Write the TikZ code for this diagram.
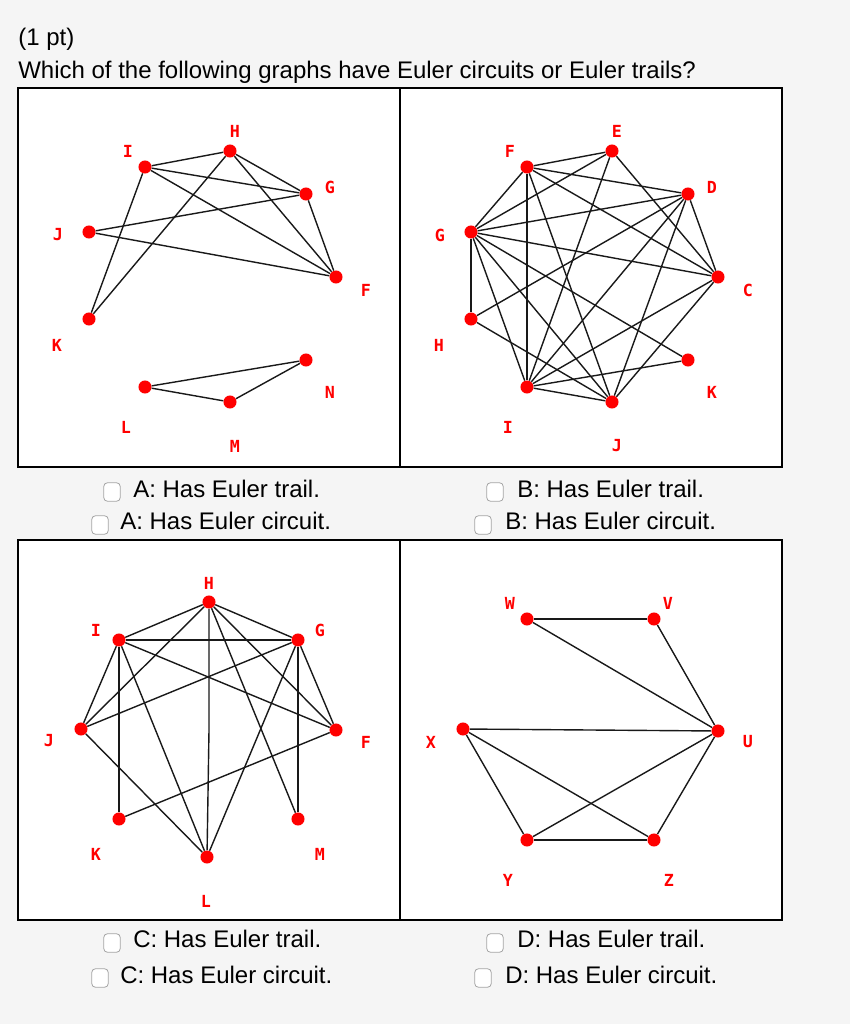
\documentclass[tikz,border=0pt]{standalone}
\usepackage{fontspec}
\setmainfont{Liberation Sans}
\newfontfamily\lblfont{DejaVu Sans Mono}[BoldFont={DejaVu Sans Mono Bold}]
\usepackage{tikz}
\definecolor{pagebg}{RGB}{245,245,245}
\definecolor{boxgray}{RGB}{165,165,165}
\tikzset{
  vtx/.style={circle, fill=red, inner sep=0pt, minimum size=9.8pt},
  vname/.style={text=red, inner sep=0pt, font=\lblfont\bfseries\fontsize{12.5}{12.5}\selectfont},
  edge/.style={line width=1.05pt, black!90},
  panel/.style={draw=black, line width=1.4pt, fill=white},
  qtext/.style={anchor=base west, inner sep=0pt, font=\fontsize{18}{21}\selectfont},
  chkbox/.style={draw=boxgray, line width=0.6pt, fill=white, rounded corners=3pt, minimum width=12.5pt, minimum height=14pt, inner sep=0pt}
}
\begin{document}
\begin{tikzpicture}[x=0.75pt,y=0.75pt,yscale=-1,xscale=1]
\useasboundingbox (0,0) rectangle (850,1024);
\fill[pagebg] (0,0) rectangle (850,1024);

% Text Node
\node[qtext] (pts) at (18,46) {(1 pt)};
% Text Node
\node[qtext] (question) at (18,79) {Which of the following graphs have Euler circuits or Euler trails?};

%Panels
\draw[panel] (18,88) rectangle (399.5,467);
\draw[panel] (400.5,88) rectangle (782,467);
\draw[panel] (18,540) rectangle (399.5,920);
\draw[panel] (400.5,540) rectangle (782,920);

%Graph A
\node[vtx] (aH) at (230,151) {};
\node[vtx] (aI) at (145,167) {};
\node[vtx] (aG) at (306,194) {};
\node[vtx] (aJ) at (89,232) {};
\node[vtx] (aF) at (336,277) {};
\node[vtx] (aK) at (89,319) {};
\node[vtx] (aN) at (306,360) {};
\node[vtx] (aL) at (145,387) {};
\node[vtx] (aM) at (230,402) {};
\node[vname] at (235,131) {H};
\node[vname] at (128,151) {I};
\node[vname] at (330,187) {G};
\node[vname] at (58,235) {J};
\node[vname] at (366,290) {F};
\node[vname] at (57,345) {K};
\node[vname] at (330,392) {N};
\node[vname] at (126,427) {L};
\node[vname] at (235,446) {M};
%Straight Lines
\draw[edge] (aI) -- (aH);
\draw[edge] (aI) -- (aG);
\draw[edge] (aI) -- (aF);
\draw[edge] (aI) -- (aK);
\draw[edge] (aH) -- (aG);
\draw[edge] (aH) -- (aF);
\draw[edge] (aH) -- (aK);
\draw[edge] (aG) -- (aJ);
\draw[edge] (aG) -- (aF);
\draw[edge] (aJ) -- (aF);
\draw[edge] (aL) -- (aN);
\draw[edge] (aL) -- (aM);
\draw[edge] (aM) -- (aN);

%Graph B
\node[vtx] (bE) at (612,151) {};
\node[vtx] (bF) at (527,167) {};
\node[vtx] (bD) at (688,194) {};
\node[vtx] (bG) at (471,232) {};
\node[vtx] (bC) at (718,277) {};
\node[vtx] (bH) at (471,319) {};
\node[vtx] (bK) at (688,360) {};
\node[vtx] (bI) at (527,387) {};
\node[vtx] (bJ) at (612,402) {};
\node[vname] at (617,131) {E};
\node[vname] at (510,151) {F};
\node[vname] at (712,187) {D};
\node[vname] at (440,235) {G};
\node[vname] at (748,290) {C};
\node[vname] at (439,345) {H};
\node[vname] at (712,392) {K};
\node[vname] at (508,427) {I};
\node[vname] at (617,446) {J};
%Straight Lines
\draw[edge] (bE) -- (bF);
\draw[edge] (bE) -- (bG);
\draw[edge] (bE) -- (bI);
\draw[edge] (bE) -- (bC);
\draw[edge] (bF) -- (bD);
\draw[edge] (bF) -- (bC);
\draw[edge] (bF) -- (bG);
\draw[edge] (bF) -- (bI);
\draw[edge] (bF) -- (bJ);
\draw[edge] (bD) -- (bG);
\draw[edge] (bD) -- (bH);
\draw[edge] (bD) -- (bI);
\draw[edge] (bD) -- (bJ);
\draw[edge] (bD) -- (bC);
\draw[edge] (bG) -- (bC);
\draw[edge] (bG) -- (bH);
\draw[edge] (bG) -- (bI);
\draw[edge] (bG) -- (bJ);
\draw[edge] (bG) -- (bK);
\draw[edge] (bH) -- (bJ);
\draw[edge] (bI) -- (bC);
\draw[edge] (bI) -- (bK);
\draw[edge] (bI) -- (bJ);
\draw[edge] (bJ) -- (bC);

%Graph C
\node[vtx] (cH) at (209,602) {};
\node[vtx] (cI) at (119,640) {};
\node[vtx] (cG) at (298,640) {};
\node[vtx] (cJ) at (81,729) {};
\node[vtx] (cF) at (336,730) {};
\node[vtx] (cK) at (119,819) {};
\node[vtx] (cM) at (298,819) {};
\node[vtx] (cL) at (207,857) {};
\node[vname] at (209,583) {H};
\node[vname] at (96,630) {I};
\node[vname] at (320,630) {G};
\node[vname] at (49,741) {J};
\node[vname] at (366,742) {F};
\node[vname] at (96,854) {K};
\node[vname] at (320,854) {M};
\node[vname] at (206,901) {L};
%Straight Lines
\draw[edge] (cH) -- (cI);
\draw[edge] (cH) -- (cG);
\draw[edge] (cH) -- (cJ);
\draw[edge] (cH) -- (cF);
\draw[edge] (cH) -- (cM);
\draw[edge] (cH) -- (209,730) -- (cL);
\draw[edge] (cI) -- (cG);
\draw[edge] (cI) -- (cJ);
\draw[edge] (cI) -- (cK);
\draw[edge] (cI) -- (cL);
\draw[edge] (cI) -- (cF);
\draw[edge] (cG) -- (cJ);
\draw[edge] (cG) -- (cF);
\draw[edge] (cG) -- (cM);
\draw[edge] (cG) -- (cL);
\draw[edge] (cJ) -- (cL);
\draw[edge] (cK) -- (cF);

%Graph D
\node[vtx] (dW) at (527,619) {};
\node[vtx] (dV) at (654,619) {};
\node[vtx] (dX) at (463,729) {};
\node[vtx] (dU) at (718,731) {};
\node[vtx] (dY) at (527,840) {};
\node[vtx] (dZ) at (654,840) {};
\node[vname] at (510,603) {W};
\node[vname] at (668,603) {V};
\node[vname] at (431,742) {X};
\node[vname] at (748,742) {U};
\node[vname] at (508,880) {Y};
\node[vname] at (669,880) {Z};
%Straight Lines
\draw[edge] (dW) -- (dV);
\draw[edge] (dW) -- (dU);
\draw[edge] (dV) -- (dU);
\draw[edge] (dX) -- (dU);
\draw[edge] (dX) -- (dY);
\draw[edge] (dX) -- (dZ);
\draw[edge] (dY) -- (dU);
\draw[edge] (dY) -- (dZ);
\draw[edge] (dZ) -- (dU);

%Check boxes
\node[chkbox] (boxAt) at (112,492) {};
\node[qtext] (txtAt) at (133,497) {A: Has Euler trail.};
\node[chkbox] (boxAc) at (100,525) {};
\node[qtext] (txtAc) at (120,529) {A: Has Euler circuit.};
\node[chkbox] (boxBt) at (495,492) {};
\node[qtext] (txtBt) at (517,497) {B: Has Euler trail.};
\node[chkbox] (boxBc) at (483,525) {};
\node[qtext] (txtBc) at (505,529) {B: Has Euler circuit.};
\node[chkbox] (boxCt) at (112,943) {};
\node[qtext] (txtCt) at (133,947) {C: Has Euler trail.};
\node[chkbox] (boxCc) at (100,978) {};
\node[qtext] (txtCc) at (120,983) {C: Has Euler circuit.};
\node[chkbox] (boxDt) at (495,943) {};
\node[qtext] (txtDt) at (517,947) {D: Has Euler trail.};
\node[chkbox] (boxDc) at (483,978) {};
\node[qtext] (txtDc) at (505,983) {D: Has Euler circuit.};

\end{tikzpicture}
\end{document}
